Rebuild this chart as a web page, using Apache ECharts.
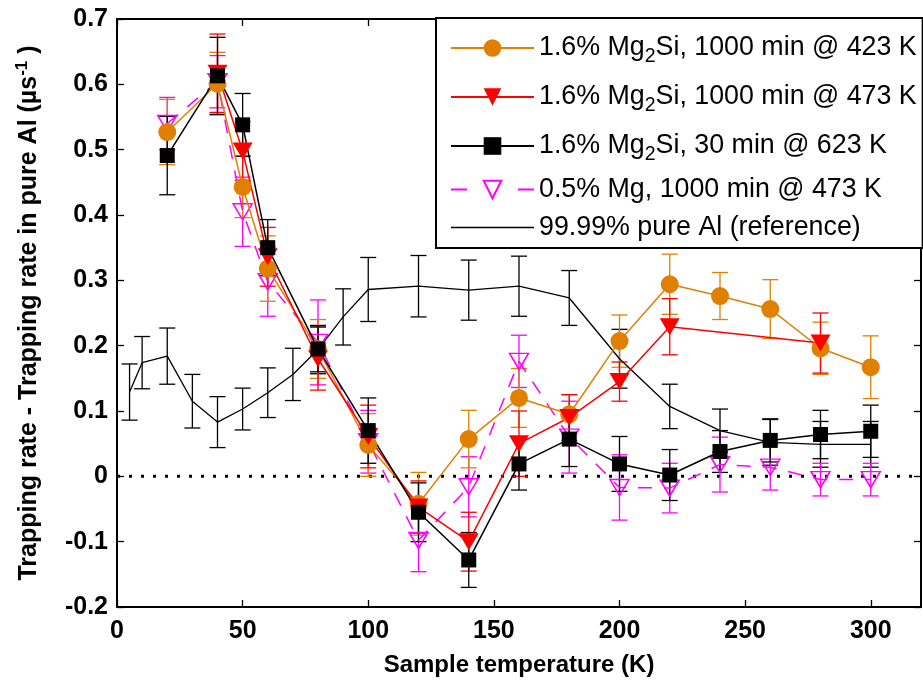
<!DOCTYPE html>
<html>
<head>
<meta charset="utf-8">
<script src="https://cdn.jsdelivr.net/npm/echarts@6/dist/echarts.min.js"></script>
<style>
  html, body { margin: 0; padding: 0; background: #fff; }
  #chart { width: 923px; height: 684px; }
</style>
</head>
<body>
<div id="chart"></div>
<script>
// temperatures (K) and values
var tempRef = [5, 10, 20, 30, 40, 50, 60, 70, 80, 90, 100, 120, 140, 160, 180, 200, 220, 240, 260, 280, 300];
var valRef  = [0.129, 0.174, 0.184, 0.115, 0.083, 0.103, 0.128, 0.156, 0.194, 0.244, 0.286, 0.291, 0.285, 0.291, 0.273, 0.18, 0.107, 0.07, 0.052, 0.049, 0.049];
var errRef  = [0.043, 0.04, 0.043, 0.041, 0.039, 0.032, 0.038, 0.04, 0.037, 0.043, 0.049, 0.047, 0.046, 0.046, 0.042, 0.045, 0.034, 0.033, 0.035, 0.035, 0.035];

var temp423 = [20, 40, 50, 60, 80, 100, 120, 140, 160, 180, 200, 220, 240, 260, 280, 300];
var val423  = [0.527, 0.601, 0.443, 0.318, 0.195, 0.048, -0.042, 0.057, 0.12, 0.095, 0.207, 0.294, 0.276, 0.256, 0.196, 0.167];
var err423  = [0.05, 0.048, 0.047, 0.05, 0.045, 0.048, 0.048, 0.044, 0.045, 0.03, 0.04, 0.046, 0.036, 0.045, 0.04, 0.048];

var temp473 = [40, 50, 60, 80, 100, 120, 140, 160, 180, 200, 220, 280];
var val473  = [0.617, 0.498, 0.336, 0.18, 0.061, -0.047, -0.1, 0.05, 0.09, 0.145, 0.229, 0.204];
var err473  = [0.06, 0.045, 0.045, 0.048, 0.048, 0.04, 0.045, 0.05, 0.035, 0.03, 0.043, 0.046];

var temp623 = [20, 40, 50, 60, 80, 100, 120, 140, 160, 180, 200, 220, 240, 260, 280, 300];
var val623  = [0.491, 0.613, 0.538, 0.35, 0.195, 0.07, -0.055, -0.128, 0.019, 0.057, 0.019, 0.002, 0.038, 0.055, 0.064, 0.069];
var err623  = [0.06, 0.059, 0.048, 0.043, 0.035, 0.05, 0.045, 0.042, 0.04, 0.042, 0.042, 0.039, 0.032, 0.033, 0.037, 0.04];

var tempMg = [20, 40, 50, 60, 80, 100, 120, 140, 160, 180, 200, 220, 240, 260, 280, 300];
var valMg  = [0.54, 0.604, 0.405, 0.298, 0.205, 0.053, -0.098, -0.016, 0.176, 0.06, -0.017, -0.018, 0.018, 0.014, -0.005, -0.005];
var errMg  = [0.04, 0.04, 0.053, 0.053, 0.065, 0.048, 0.048, 0.046, 0.04, 0.055, 0.05, 0.038, 0.042, 0.035, 0.025, 0.025];

var legendNames = {
	a: '1.6% Mg{sub|2}Si, 1000 min @ 423 K',
	b: '1.6% Mg{sub|2}Si, 1000 min @ 473 K',
	c: '1.6% Mg{sub|2}Si, 30 min @ 623 K',
	d: '0.5% Mg, 1000 min @ 473 K',
	e: '99.99% pure Al (reference)'
};

var ORANGE = '#df8000', RED = '#ff0000', BLACK = '#000000', MAGENTA = '#ff00ff';
var FONT = '"Liberation Sans", Arial, sans-serif';

function pts(t, v){ return t.map(function(x, i){ return [x, v[i]]; }); }
function bars(t, v, e){ return t.map(function(x, i){ return [x, v[i] - e[i], v[i] + e[i]]; }); }

function errSeries(t, v, e, color){
	return {
		type: 'custom',
		silent: true,
		z: 3,
		data: bars(t, v, e),
		renderItem: function(params, api){
			var lo = api.coord([api.value(0), api.value(1)]);
			var hi = api.coord([api.value(0), api.value(2)]);
			var w = 8;
			var st = { stroke: color, lineWidth: 1.3 };
			return {
				type: 'group',
				children: [
					{ type: 'line', shape: { x1: lo[0], y1: lo[1], x2: hi[0], y2: hi[1] }, style: st },
					{ type: 'line', shape: { x1: lo[0]-w, y1: lo[1], x2: lo[0]+w, y2: lo[1] }, style: st },
					{ type: 'line', shape: { x1: hi[0]-w, y1: hi[1], x2: hi[0]+w, y2: hi[1] }, style: st }
				]
			};
		}
	};
}

var tickStyle = { inside: true, length: 7, lineStyle: { color: '#000', width: 1.3 } };
var lineAxis = { onZero: false, lineStyle: { color: '#000', width: 2 } };

var chart = echarts.init(document.getElementById('chart'));

var option = {
	animation: false,
	backgroundColor: '#fff',
	grid: { left: 117, right: 2, top: 19, bottom: 77, containLabel: false },
	legend: {
		orient: 'vertical',
		left: 436, top: 18,
		align: 'left',
		backgroundColor: '#fff',
		borderColor: '#000', borderWidth: 2,
		padding: [11, 6, 7, 14],
		itemWidth: 83, itemHeight: 22,
		itemGap: 11,
		z: 10,
		data: [
			{ name: 'a' }, { name: 'b' }, { name: 'c' },
			{ name: 'd', lineStyle: { type: [16, 51] } },
			{ name: 'e', icon: 'path://M0,0L83,0L83,1.4L0,1.4Z' }
		],
		formatter: function(name){ return legendNames[name]; },
		textStyle: {
			fontFamily: FONT, fontSize: 26.8, lineHeight: 26, color: '#000',
			rich: { sub: { fontFamily: FONT, fontSize: 19.5, lineHeight: 21, padding: [18, 0, 0, 0] } }
		}
	},
	xAxis: [{
		type: 'value', min: 0, max: 320, interval: 50,
		name: 'Sample temperature (K)', nameLocation: 'middle', nameGap: 46,
		nameTextStyle: { fontFamily: FONT, fontSize: 24, fontWeight: 'bold', color: '#000' },
		axisLine: lineAxis,
		axisTick: tickStyle,
		axisLabel: { fontFamily: FONT, fontSize: 25, fontWeight: 'bold', color: '#000', margin: 12, showMaxLabel: false },
		splitLine: { show: false }
	}, {
		type: 'value', min: 0, max: 320, interval: 50, position: 'top',
		axisLine: lineAxis,
		axisTick: tickStyle,
		axisLabel: { show: false }, splitLine: { show: false }
	}],
	yAxis: [{
		type: 'value', min: -0.2, max: 0.7, interval: 0.1,
		name: 'Trapping rate - Trapping rate in pure Al (µs{sup|-1} )',
		nameLocation: 'middle', nameGap: 72,
		nameTextStyle: {
			fontFamily: FONT, fontSize: 25, fontWeight: 'bold', color: '#000',
			rich: { sup: { fontFamily: FONT, fontSize: 17, fontWeight: 'bold', padding: [0, 0, 14, 0] } }
		},
		axisLine: lineAxis,
		axisTick: tickStyle,
		axisLabel: {
			fontFamily: FONT, fontSize: 25, fontWeight: 'bold', color: '#000', margin: 9,
			formatter: function(v){ return String(+v.toFixed(1)); }
		},
		splitLine: { show: false }
	}, {
		type: 'value', min: -0.2, max: 0.7, interval: 0.1, position: 'right',
		axisLine: lineAxis,
		axisTick: tickStyle,
		axisLabel: { show: false }, splitLine: { show: false }
	}],
	series: [
		// dotted zero line
		{
			type: 'line', silent: true, symbol: 'none', z: 1,
			data: [[0, 0], [320, 0]],
			lineStyle: { color: '#000', width: 3, type: [3, 9] }
		},
		errSeries(tempRef, valRef, errRef, BLACK),
		{
			name: 'e', type: 'line', symbol: 'none', z: 4,
			data: pts(tempRef, valRef),
			lineStyle: { color: BLACK, width: 1.3 }, itemStyle: { color: BLACK }
		},
		errSeries(tempMg, valMg, errMg, MAGENTA),
		{
			name: 'd', type: 'line', symbol: 'triangle', symbolRotate: 180, symbolSize: [19, 16], z: 4,
			data: pts(tempMg, valMg),
			lineStyle: { color: MAGENTA, width: 1.5, type: [14, 12] },
			itemStyle: { color: 'rgba(255,255,255,0)', borderColor: MAGENTA, borderWidth: 1.5 }
		},
		errSeries(temp423, val423, err423, ORANGE),
		{
			name: 'a', type: 'line', symbol: 'circle', symbolSize: 18, z: 5,
			data: pts(temp423, val423),
			lineStyle: { color: ORANGE, width: 1.5 }, itemStyle: { color: ORANGE }
		},
		errSeries(temp473, val473, err473, RED),
		{
			name: 'b', type: 'line', symbol: 'triangle', symbolRotate: 180, symbolSize: [20, 17], z: 5,
			data: pts(temp473, val473),
			lineStyle: { color: RED, width: 1.5 }, itemStyle: { color: RED }
		},
		errSeries(temp623, val623, err623, BLACK),
		{
			name: 'c', type: 'line', symbol: 'rect', symbolSize: 15, z: 5,
			data: pts(temp623, val623),
			lineStyle: { color: BLACK, width: 1.5 }, itemStyle: { color: BLACK }
		}
	]
};

chart.setOption(option);
</script>
</body>
</html>
